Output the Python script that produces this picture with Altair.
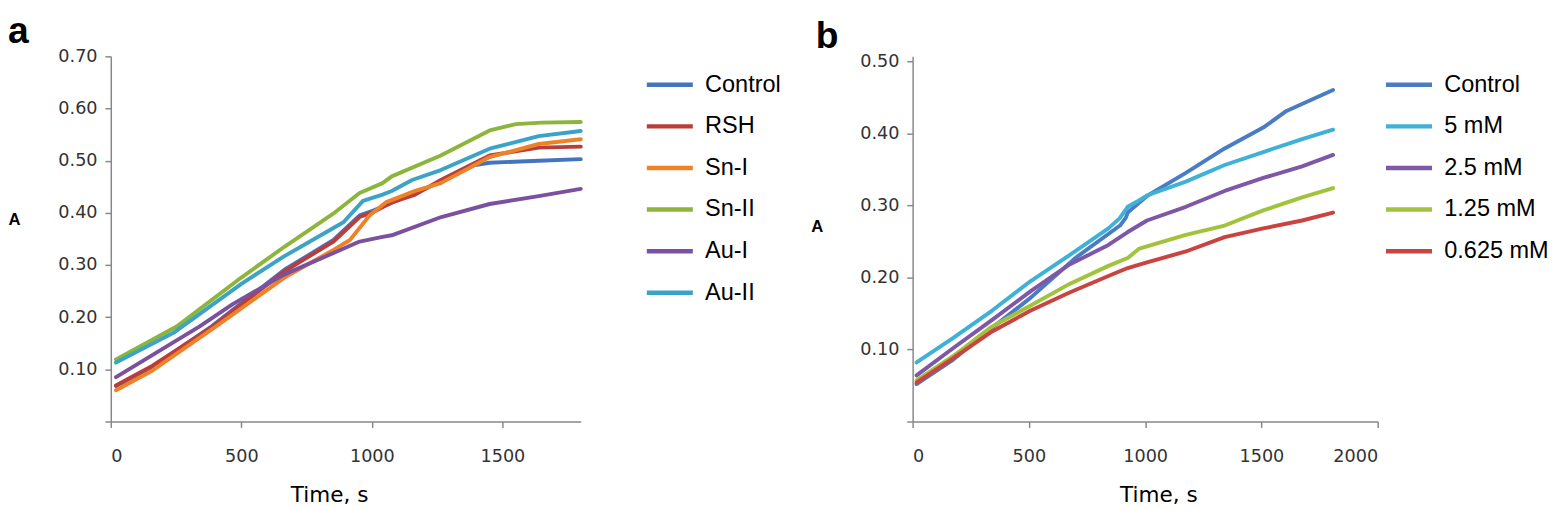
import altair as alt
import pandas as pd

# ---------------- Panel a data ----------------
a_series = ["Control", "RSH", "Sn-I", "Sn-II", "Au-I", "Au-II"]
a_colors = ["#4474c0", "#bb3d3b", "#ee8227", "#8db53c", "#7b519f", "#3aa3c6"]

a_control_t = [20, 160, 385, 665, 853, 953, 1003, 1166, 1266, 1390, 1451, 1639, 1800]
a_control_A = [0.068, 0.105, 0.182, 0.291, 0.348, 0.395, 0.404, 0.438, 0.460, 0.491, 0.496, 0.500, 0.503]

a_rsh_t = [20, 160, 390, 665, 853, 953, 1003, 1076, 1166, 1264, 1451, 1639, 1800]
a_rsh_A = [0.069, 0.107, 0.182, 0.288, 0.345, 0.392, 0.401, 0.420, 0.435, 0.463, 0.510, 0.525, 0.527]

a_sn1_t = [20, 160, 402, 665, 853, 916, 991, 1053, 1166, 1264, 1451, 1639, 1800]
a_sn1_A = [0.060, 0.098, 0.182, 0.276, 0.329, 0.348, 0.395, 0.420, 0.442, 0.457, 0.507, 0.532, 0.541]

a_sn2_t = [20, 252, 500, 665, 859, 953, 1041, 1076, 1264, 1451, 1551, 1650, 1800]
a_sn2_A = [0.119, 0.182, 0.276, 0.335, 0.401, 0.438, 0.457, 0.470, 0.510, 0.558, 0.570, 0.573, 0.574]

a_au1_t = [20, 339, 467, 665, 853, 953, 1041, 1076, 1266, 1451, 1639, 1800]
a_au1_A = [0.085, 0.182, 0.225, 0.282, 0.323, 0.345, 0.354, 0.357, 0.392, 0.417, 0.432, 0.446]

a_au2_t = [20, 240, 500, 665, 891, 966, 1041, 1076, 1154, 1264, 1451, 1639, 1800]
a_au2_A = [0.113, 0.170, 0.264, 0.317, 0.382, 0.423, 0.435, 0.442, 0.463, 0.482, 0.523, 0.547, 0.557]

# ---------------- Panel b data ----------------
b_series = ["Control", "5 mM", "2.5 mM", "1.25 mM", "0.625 mM"]
b_colors = ["#4a7cc4", "#3fb0d6", "#7e57a6", "#a2c23c", "#c94340"]

b_control_t = [17, 175, 342, 508, 700, 892, 917, 925, 1008, 1175, 1342, 1508, 1608, 1808]
b_control_A = [0.052, 0.086, 0.130, 0.172, 0.227, 0.272, 0.283, 0.290, 0.313, 0.345, 0.379, 0.408, 0.431, 0.460]

b_5_t = [17, 175, 342, 508, 675, 842, 890, 925, 970, 1010, 1175, 1342, 1508, 1675, 1808]
b_5_A = [0.082, 0.116, 0.154, 0.195, 0.231, 0.268, 0.282, 0.298, 0.306, 0.314, 0.333, 0.356, 0.374, 0.392, 0.405]

b_25_t = [17, 175, 342, 508, 675, 842, 925, 1008, 1175, 1342, 1508, 1675, 1808]
b_25_A = [0.064, 0.102, 0.141, 0.181, 0.218, 0.245, 0.263, 0.279, 0.298, 0.320, 0.338, 0.354, 0.370]

b_125_t = [17, 175, 342, 508, 675, 842, 925, 975, 1175, 1342, 1508, 1675, 1808]
b_125_A = [0.057, 0.091, 0.132, 0.161, 0.191, 0.216, 0.227, 0.240, 0.259, 0.272, 0.293, 0.311, 0.324]

b_0625_t = [17, 175, 342, 508, 675, 842, 925, 1008, 1175, 1342, 1508, 1675, 1808]
b_0625_A = [0.054, 0.088, 0.125, 0.154, 0.179, 0.202, 0.213, 0.221, 0.236, 0.256, 0.268, 0.279, 0.290]

a_y_ticks = [0, 0.1, 0.2, 0.3, 0.4, 0.5, 0.6, 0.7]
a_x_ticks = [0, 500, 1000, 1500]
b_y_ticks = [0, 0.1, 0.2, 0.3, 0.4, 0.5]
b_x_ticks = [0, 500, 1000, 1500, 2000]


def long(names, ts, As):
    rows = []
    for n, t, A in zip(names, ts, As):
        for ti, ai in zip(t, A):
            rows.append({"series": n, "t": ti, "A": ai})
    return pd.DataFrame(rows)


df_a = long(a_series,
            [a_control_t, a_rsh_t, a_sn1_t, a_sn2_t, a_au1_t, a_au2_t],
            [a_control_A, a_rsh_A, a_sn1_A, a_sn2_A, a_au1_A, a_au2_A])
df_b = long(b_series,
            [b_control_t, b_5_t, b_25_t, b_125_t, b_0625_t],
            [b_control_A, b_5_A, b_25_A, b_125_A, b_0625_A])

TICK_FONT = "DejaVu Sans"
LEG_FONT = "Liberation Sans"
GRAY = "#878787"


def panel(df, label, series, colors, xmax, xticks, yticks, ydom, w, h,
          ytitle_x, ytitle_y, xtitle_x, title_dx, title_offset, leg_x, leg_y):
    y_expr = "datum.value == 0 ? '' : format(datum.value, '.2f')"
    return alt.Chart(df, title=alt.TitleParams(
        label, anchor="start", frame="group", dx=title_dx, fontSize=38,
        fontWeight="bold", font=LEG_FONT, color="black",
        baseline="alphabetic", offset=title_offset)).mark_line(
        strokeWidth=4, strokeCap="round", strokeJoin="round").encode(
        x=alt.X("t:Q", scale=alt.Scale(domain=[0, xmax], nice=False, zero=True),
                axis=alt.Axis(values=xticks, title="Time, s", format="d",
                              labelPadding=21, titlePadding=20,
                              titleX=xtitle_x, titleAlign="center")),
        y=alt.Y("A:Q", scale=alt.Scale(domain=[0, ydom], nice=False),
                axis=alt.Axis(values=yticks, labelExpr=y_expr, title="A",
                              titleAngle=0, titleAlign="left",
                              titleBaseline="middle", titleX=ytitle_x,
                              titleY=ytitle_y, titleFont=LEG_FONT,
                              titleFontSize=17, titleFontWeight="bold",
                              labelPadding=8)),
        color=alt.Color("series:N", sort=series,
                        scale=alt.Scale(domain=series, range=colors),
                        legend=alt.Legend(orient="none", legendX=leg_x,
                                          legendY=leg_y, title=None,
                                          symbolType="stroke", symbolSize=2209,
                                          symbolStrokeWidth=4.5,
                                          labelFont=LEG_FONT, labelFontSize=24,
                                          labelColor="black", labelOffset=10,
                                          rowPadding=4.5, padding=0)),
        order=alt.Order("t:Q"),
    ).properties(width=w, height=h)


chart_a = panel(df_a, "a", a_series, a_colors, 1800, a_x_ticks, a_y_ticks, 0.7,
                480, 373, -105, 167, 223, -105, -33, 545, 3)
# panel b: its top tick (0.50) sits 5 px below panel a's top tick
chart_b = panel(df_b, "b", b_series, b_colors, 2000, b_x_ticks, b_y_ticks, 0.5068,
                475, 373, -104, 174, 251, -99, -33, 481, 3)

chart = alt.hconcat(chart_a, chart_b, spacing=30).resolve_scale(
    color="independent").resolve_legend(color="independent").configure_axis(
    domainColor=GRAY, domainWidth=1.5, tickColor=GRAY, tickWidth=1.5,
    tickSize=6, grid=False, labelFont=TICK_FONT, labelFontSize=18,
    labelColor="#333333", titleFont=TICK_FONT, titleFontSize=22,
    titleColor="black", titleFontWeight="normal").configure_view(
    stroke=None).properties(padding=0, background="white")

chart.save("out.html", embed_options={"renderer": "svg", "actions": False})
